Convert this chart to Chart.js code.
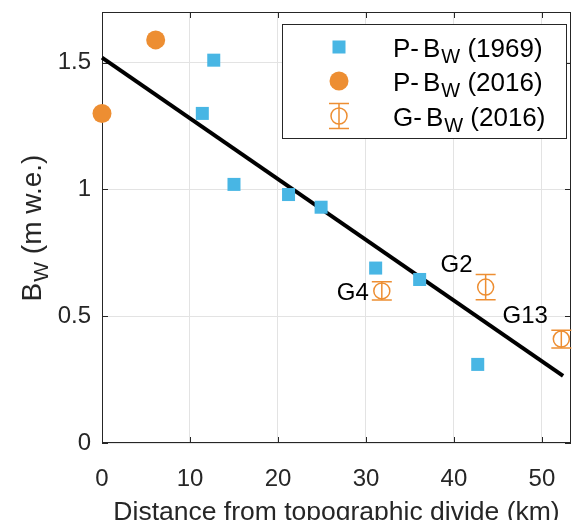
<!DOCTYPE html>
<html>
<head>
<meta charset="utf-8">
<script src="https://cdn.jsdelivr.net/npm/chart.js@4.4.1/dist/chart.umd.min.js"></script>
<style>
  html, body { margin: 0; padding: 0; background: #fff; }
  #wrap { width: 573px; height: 520px; }
</style>
</head>
<body>
<div id="wrap"><canvas id="myChart" width="573" height="520"></canvas></div>
<script>
// P-Bw (1969) - blue squares
const p1969X = [11.4, 12.7, 15.0, 21.2, 24.9, 31.1, 36.1, 42.7];
const p1969Y = [1.30, 1.51, 1.02, 0.98, 0.93, 0.69, 0.645, 0.31];

// P-Bw (2016) - orange dots
const p2016X = [0, 6.1];
const p2016Y = [1.30, 1.59];

// G-Bw (2016) - open circles with error bars
const gX = [31.8, 43.6, 52.2];
const gY = [0.60, 0.615, 0.41];
const gErr = [0.036, 0.05, 0.035];
const gNames = ['G4', 'G2', 'G13'];
const gNameX = [28.5, 40.3, 48.1];
const gNameY = [0.59, 0.70, 0.50];

// regression line
const fitX = [0, 52.4];
const fitY = [1.52, 0.265];

const xTickValues = [0, 10, 20, 30, 40, 50];
const yTickValues = [0, 0.5, 1, 1.5];
const xLimits = [0, 53.3];
const yLimits = [0, 1.7];

const legendPrefix = ['P-', 'P-', 'G-'];
const legendSuffix = [' (1969)', ' (2016)', ' (2016)'];

const FONT = '"Liberation Sans", Arial, Helvetica, sans-serif';
const INK = '#262626';
const BLUE = 'rgb(72,182,228)';
const ORANGE = 'rgb(237,142,50)';

function toPts(xs, ys) {
  return xs.map((x, i) => ({ x: x, y: ys[i] }));
}

// text like B_W with a subscript
function subText(ctx, x, y, pre, main, sub, post, size, gap) {
  ctx.font = size + 'px ' + FONT;
  ctx.fillText(pre, x, y);
  x += ctx.measureText(pre).width + (gap || 0);
  ctx.fillText(main, x, y);
  x += ctx.measureText(main).width + 1;
  ctx.font = Math.round(size * 0.75) + 'px ' + FONT;
  ctx.fillText(sub, x, y + size * 0.25);
  x += ctx.measureText(sub).width;
  ctx.font = size + 'px ' + FONT;
  ctx.fillText(post, x, y);
}

function errBar(ctx, x, yTop, yBot, cap) {
  ctx.beginPath();
  ctx.moveTo(x, yTop); ctx.lineTo(x, yBot);
  ctx.moveTo(x - cap, yTop); ctx.lineTo(x + cap, yTop);
  ctx.moveTo(x - cap, yBot); ctx.lineTo(x + cap, yBot);
  ctx.stroke();
}

function noPad(s) {
  s.paddingTop = 0; s.paddingBottom = 0;
  s.paddingLeft = 0; s.paddingRight = 0;
}

const framePlugin = {
  id: 'frame',
  beforeDatasetsDraw(chart) {
    const ctx = chart.ctx;
    const a = chart.chartArea;
    const xs = chart.scales.x, ys = chart.scales.y;
    ctx.save();
    ctx.strokeStyle = INK;
    ctx.lineWidth = 1;
    ctx.strokeRect(Math.round(a.left) + 0.5, Math.round(a.top) + 0.5,
      Math.round(a.right - a.left) - 1, Math.round(a.bottom - a.top) - 1);
    // inward ticks on all four sides
    const tl = 6;
    ctx.beginPath();
    xTickValues.forEach(v => {
      const px = Math.round(xs.getPixelForValue(v)) + 0.5;
      ctx.moveTo(px, a.bottom); ctx.lineTo(px, a.bottom - tl);
      ctx.moveTo(px, a.top); ctx.lineTo(px, a.top + tl);
    });
    yTickValues.forEach(v => {
      const py = Math.round(ys.getPixelForValue(v)) + 0.5;
      ctx.moveTo(a.left, py); ctx.lineTo(a.left + tl, py);
      ctx.moveTo(a.right, py); ctx.lineTo(a.right - tl, py);
    });
    ctx.stroke();
    // error bars
    ctx.strokeStyle = ORANGE;
    ctx.lineWidth = 1.5;
    gX.forEach((x, i) => {
      const px = xs.getPixelForValue(x);
      errBar(ctx, px, ys.getPixelForValue(gY[i] + gErr[i]), ys.getPixelForValue(gY[i] - gErr[i]), 10);
    });
    ctx.restore();
  },
  afterDraw(chart) {
    const ctx = chart.ctx;
    const xs = chart.scales.x, ys = chart.scales.y;
    ctx.save();
    ctx.fillStyle = '#000';
    ctx.font = '24px ' + FONT;
    ctx.textAlign = 'center';
    ctx.textBaseline = 'middle';
    gNames.forEach((n, i) => {
      ctx.fillText(n, xs.getPixelForValue(gNameX[i]), ys.getPixelForValue(gNameY[i]));
    });

    // legend
    const L = { x: 282, y: 24, w: 284, h: 114 };
    ctx.fillStyle = '#fff';
    ctx.fillRect(L.x, L.y, L.w, L.h);
    ctx.strokeStyle = INK;
    ctx.lineWidth = 1;
    ctx.strokeRect(L.x + 0.5, L.y + 0.5, L.w, L.h);
    const rows = [47, 81, 116];
    const sx = 339;
    ctx.fillStyle = BLUE;
    ctx.fillRect(sx - 6.5, rows[0] - 6.5, 13, 13);
    ctx.fillStyle = ORANGE;
    ctx.beginPath(); ctx.arc(sx, rows[1], 9.5, 0, Math.PI * 2); ctx.fill();
    ctx.strokeStyle = ORANGE;
    ctx.lineWidth = 1.5;
    ctx.beginPath(); ctx.arc(sx, rows[2], 8, 0, Math.PI * 2); ctx.stroke();
    errBar(ctx, sx, rows[2] - 12.5, rows[2] + 12.5, 10);
    ctx.fillStyle = '#000';
    ctx.textAlign = 'left';
    ctx.textBaseline = 'alphabetic';
    rows.forEach((ry, i) => {
      subText(ctx, 393, ry + 9.5, legendPrefix[i], 'B', 'W', legendSuffix[i], 26, 4);
    });

    // y-axis title
    ctx.fillStyle = INK;
    ctx.translate(41, 228);
    ctx.rotate(-Math.PI / 2);
    ctx.font = '28px ' + FONT;
    let w = ctx.measureText('B (m w.e.)').width;
    ctx.font = '21px ' + FONT;
    w += ctx.measureText('W').width + 1;
    subText(ctx, -w / 2, 0, '', 'B', 'W', ' (m w.e.)', 28);
    ctx.restore();
  }
};

const ctx = document.getElementById('myChart').getContext('2d');
const chart = new Chart(ctx, {
  type: 'scatter',
  data: {
    datasets: [
      {
        label: 'P-Bw (1969)',
        data: toPts(p1969X, p1969Y),
        pointStyle: 'rect',
        pointRadius: 9.2,
        backgroundColor: BLUE,
        borderColor: BLUE,
        borderWidth: 0,
        clip: false,
        order: 1
      },
      {
        label: 'P-Bw (2016)',
        data: toPts(p2016X, p2016Y),
        pointStyle: 'circle',
        pointRadius: 9.5,
        backgroundColor: ORANGE,
        borderColor: ORANGE,
        borderWidth: 0,
        clip: false,
        order: 1
      },
      {
        label: 'G-Bw (2016)',
        data: toPts(gX, gY),
        pointStyle: 'circle',
        pointRadius: 8,
        backgroundColor: 'rgba(0,0,0,0)',
        borderColor: ORANGE,
        borderWidth: 1.5,
        clip: false,
        order: 1
      },
      {
        type: 'line',
        label: 'fit',
        data: toPts(fitX, fitY),
        borderColor: '#000',
        borderWidth: 4,
        pointRadius: 0,
        showLine: true,
        fill: false,
        clip: false,
        order: 5
      }
    ]
  },
  options: {
    responsive: false,
    animation: false,
    layout: { autoPadding: false, padding: { top: 12, right: 2, left: 0, bottom: 0 } },
    plugins: {
      legend: { display: false },
      tooltip: { enabled: false }
    },
    scales: {
      x: {
        type: 'linear',
        min: xLimits[0],
        max: xLimits[1],
        afterBuildTicks: s => { s.ticks = xTickValues.map(v => ({ value: v })); },
        afterFit: s => { s.height = 77; noPad(s); },
        ticks: {
          font: { family: FONT, size: 24 },
          color: INK,
          padding: 22,
          maxRotation: 0,
          callback: v => String(v)
        },
        grid: { color: '#e3e3e3', drawTicks: false },
        border: { display: false },
        title: {
          display: true,
          text: 'Distance from topographic divide (km)',
          color: INK,
          font: { family: FONT, size: 26.5, lineHeight: 1 },
          padding: { top: 0, bottom: -6 }
        }
      },
      y: {
        type: 'linear',
        min: yLimits[0],
        max: yLimits[1],
        afterBuildTicks: s => { s.ticks = yTickValues.map(v => ({ value: v })); },
        afterFit: s => { s.width = 102; noPad(s); },
        ticks: {
          font: { family: FONT, size: 24 },
          color: INK,
          padding: 11,
          callback: v => String(v)
        },
        grid: { color: '#e3e3e3', drawTicks: false },
        border: { display: false }
      }
    }
  },
  plugins: [framePlugin]
});
</script>
</body>
</html>
